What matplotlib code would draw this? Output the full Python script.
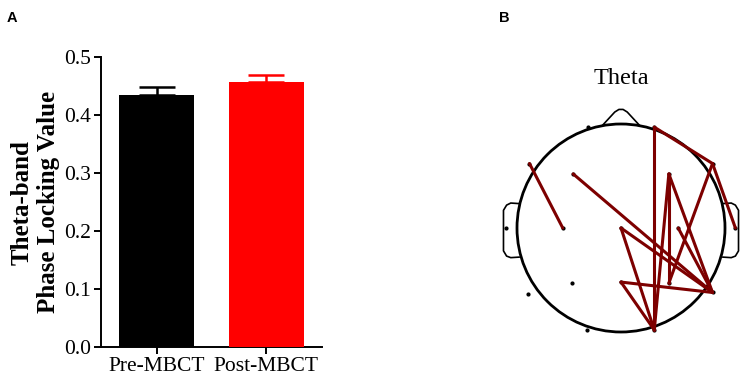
import numpy as np
import matplotlib
matplotlib.use('Agg')
import matplotlib.pyplot as plt
import matplotlib.patches as patches

# data
groups = ['Pre-MBCT', 'Post-MBCT']
plv_mean = [0.435, 0.458]
plv_sem = [0.013, 0.012]
bar_colors = ['black', 'red']

# electrode layout (normalised head units, nose up)
electrodes = {
    'Fp1': (-0.32, 0.97), 'Fp2': (0.32, 0.97),
    'F7': (-0.88, 0.62), 'F3': (-0.46, 0.52), 'F4': (0.46, 0.52), 'F8': (0.88, 0.62),
    'T3': (-1.11, 0.0), 'C3': (-0.56, 0.0), 'Cz': (0.0, 0.0), 'C4': (0.55, 0.0), 'T4': (1.10, 0.0),
    'T5': (-0.89, -0.63), 'P3': (-0.47, -0.53), 'Pz': (0.0, -0.52), 'P4': (0.46, -0.53), 'T6': (0.88, -0.62),
    'O1': (-0.33, -0.98), 'O2': (0.32, -0.98),
}
connections = [
    ('F7', 'C3'), ('F3', 'T6'), ('Fp2', 'O2'), ('Fp2', 'F8'), ('F8', 'T4'),
    ('F8', 'P4'), ('F4', 'P4'), ('F4', 'O2'), ('F4', 'T6'), ('Cz', 'T6'),
    ('Cz', 'O2'), ('Pz', 'T6'), ('Pz', 'O2'), ('C4', 'T6'),
]

W, H = 742, 375
fig = plt.figure(figsize=(W / 100, H / 100), dpi=100)
serif = 'Liberation Serif'

# panel A: bar chart
ax1 = fig.add_axes([101 / W, 1 - 347.3 / H, 220.7 / W, 290 / H])
x = np.arange(len(groups))
ax1.bar(x, plv_mean, width=0.684, color=bar_colors, zorder=3)
for xi, m, s, c in zip(x, plv_mean, plv_sem, bar_colors):
    ax1.errorbar(xi, m, yerr=[[0], [s]], color=c, capsize=13, capthick=1.8,
                 elinewidth=1.8, zorder=2)
ax1.set_xlim(-0.506, 1.505)
ax1.set_ylim(0, 0.5)
ax1.set_yticks([0, 0.1, 0.2, 0.3, 0.4, 0.5])
ax1.set_yticklabels(['0.0', '0.1', '0.2', '0.3', '0.4', '0.5'], family=serif, fontsize=15.5)
ax1.set_xticks(x)
ax1.set_xticklabels(groups, family=serif, fontsize=15.5)
ax1.spines['top'].set_visible(False)
ax1.spines['right'].set_visible(False)
for sp in ['left', 'bottom']:
    ax1.spines[sp].set_linewidth(1.4)
ax1.tick_params(axis='both', length=5, width=1.4, direction='out', pad=2)
ax1.set_ylabel('Theta-band\nPhase Locking Value', family=serif, fontsize=18,
               fontweight='bold', linespacing=1.2, labelpad=3)
fig.text(7 / W, 1 - 22 / H, 'A', fontsize=10.5, fontweight='bold', family='Liberation Sans')

# panel B: head plot
R, cx, cy = 104, 621, 228
xmin, xmax, ymin, ymax = -1.26, 1.165, -1.2, 1.5
ax2 = fig.add_axes([(cx + xmin * R) / W, (H - (cy - ymin * R)) / H,
                    (xmax - xmin) * R / W, (ymax - ymin) * R / H])
ax2.set_xlim(xmin, xmax)
ax2.set_ylim(ymin, ymax)
ax2.axis('off')

ax2.add_patch(patches.Circle((0, 0), 1.0, fill=False, lw=2.0, color='black'))
nose_x = [-0.18, -0.06, -0.02, 0.02, 0.06, 0.18]
nose_y = [0.985, 1.115, 1.14, 1.14, 1.115, 0.985]
ax2.plot(nose_x, nose_y, color='black', lw=1.2)
ear_x = np.array([-0.985, -1.06, -1.10, -1.13, -1.13, -1.10, -1.06, -0.98])
ear_y = np.array([0.235, 0.24, 0.22, 0.17, -0.22, -0.27, -0.285, -0.28])
ax2.plot(ear_x, ear_y, color='black', lw=1.2)
ax2.plot(-ear_x, ear_y, color='black', lw=1.2)

ex = [p[0] for p in electrodes.values()]
ey = [p[1] for p in electrodes.values()]
ax2.scatter(ex, ey, s=4, color='black', zorder=3)
for a, b in connections:
    (x0, y0), (x1, y1) = electrodes[a], electrodes[b]
    ax2.plot([x0, x1], [y0, y1], color='#7d0000', lw=2.2, solid_capstyle='round', zorder=4)

ax2.text(0, 1.38, 'Theta', ha='center', va='baseline', family=serif, fontsize=17.5)
fig.text(499 / W, 1 - 22 / H, 'B', fontsize=10.5, fontweight='bold', family='Liberation Sans')

fig.savefig('out.png', dpi=100)
